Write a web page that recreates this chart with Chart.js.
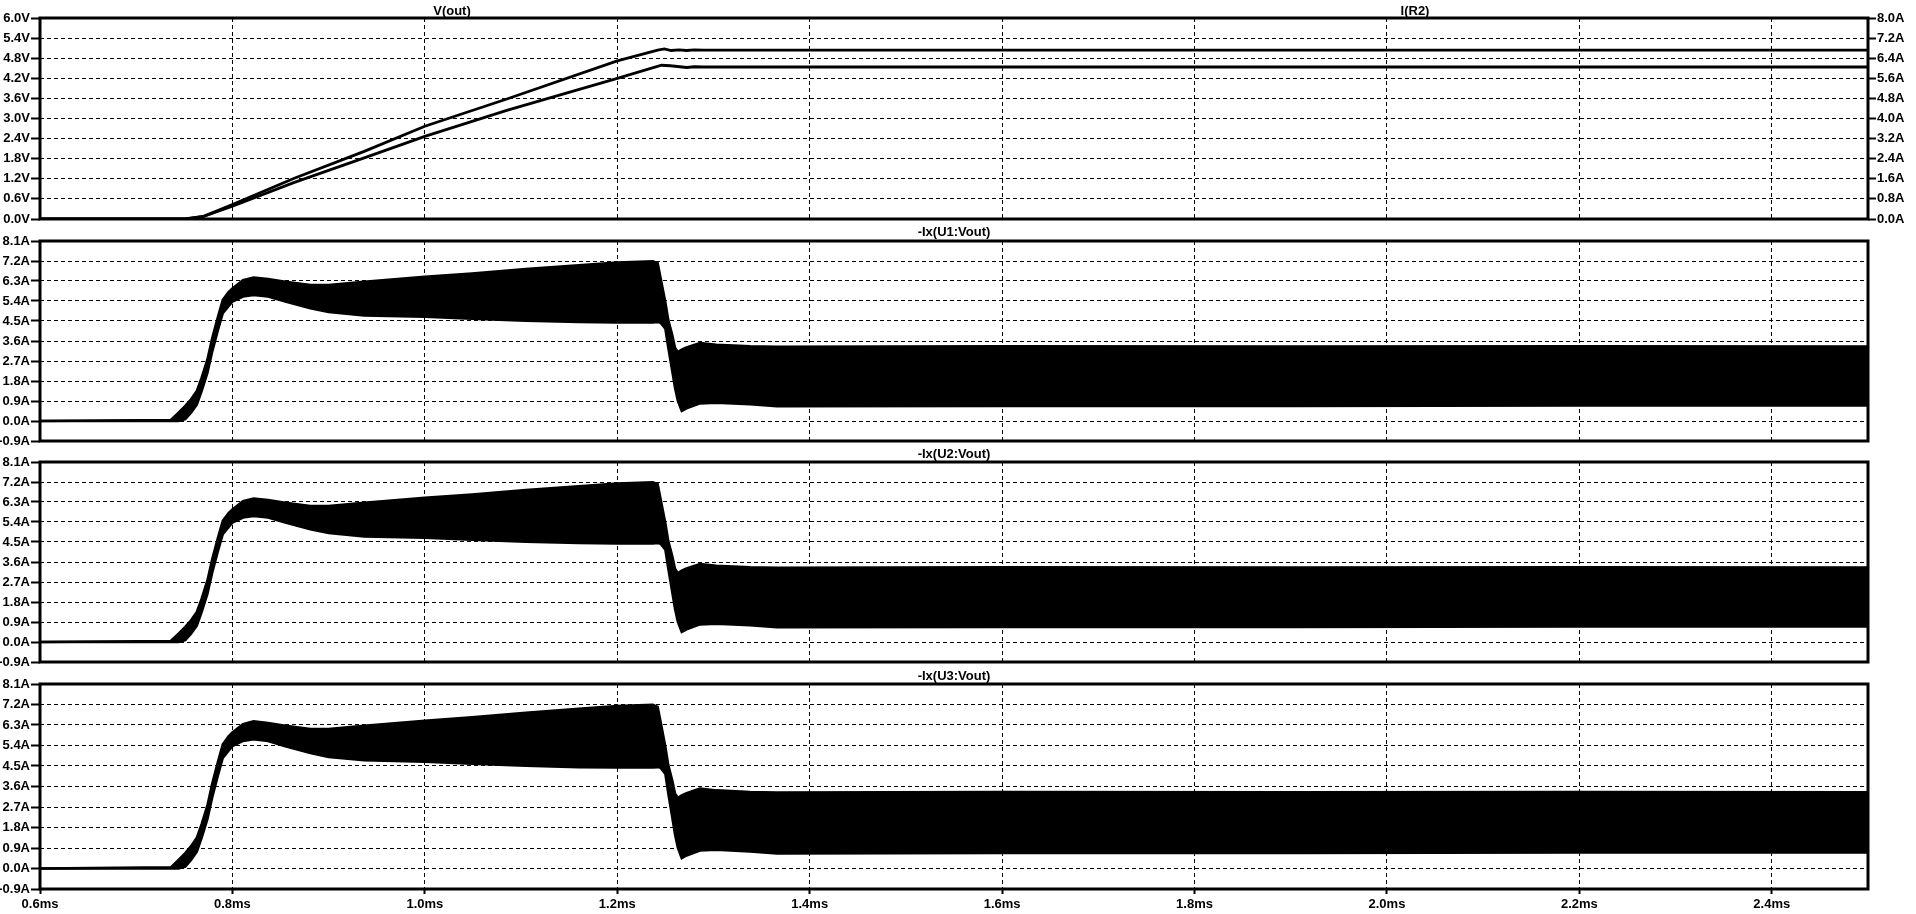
<!DOCTYPE html>
<html>
<head>
<meta charset="utf-8">
<script src="https://cdn.jsdelivr.net/npm/chart.js"></script>
<style>
  html, body { margin: 0; padding: 0; background: #fff; }
  body { width: 1916px; height: 914px; position: relative; overflow: hidden;
         font: bold 13px "Liberation Sans", Arial, sans-serif; color: #000; }
  canvas { position: absolute; left: 0; }
  .name { position: absolute; transform: translate(-50%, -50%); white-space: nowrap; }
</style>
</head>
<body>
<canvas id="p1" width="1916" height="230" style="top:0px"></canvas>
<canvas id="p2" width="1916" height="222" style="top:230px"></canvas>
<canvas id="p3" width="1916" height="221" style="top:452px"></canvas>
<canvas id="p4" width="1916" height="241" style="top:673px"></canvas>
<div id="names"></div>
<script>
// axis ticks
const timeTicks = [0.6, 0.8, 1.0, 1.2, 1.4, 1.6, 1.8, 2.0, 2.2, 2.4];
const voutTicks = [0.0, 0.6, 1.2, 1.8, 2.4, 3.0, 3.6, 4.2, 4.8, 5.4, 6.0];
const ir2Ticks = [0.0, 0.8, 1.6, 2.4, 3.2, 4.0, 4.8, 5.6, 6.4, 7.2, 8.0];
const ixTicks = [-0.9, 0.0, 0.9, 1.8, 2.7, 3.6, 4.5, 5.4, 6.3, 7.2, 8.1];

// V(out) in volts (time in ms)
const voutTime = [0.6, 0.751, 0.77, 0.8, 0.863, 0.937, 1.0, 1.086, 1.2, 1.242, 1.249, 1.256, 1.264, 1.272, 1.28, 1.29, 2.5];
const voutValues = [0, 0, 0.08, 0.43, 1.2, 2.02, 2.77, 3.59, 4.72, 5.04, 5.08, 5.03, 5.05, 5.03, 5.05, 5.04, 5.04];

// I(R2) in amps
const ir2Time = [0.6, 0.751, 0.77, 0.8, 0.863, 0.937, 1.0, 1.086, 1.2, 1.246, 1.255, 1.265, 1.272, 1.28, 1.29, 2.5];
const ir2Values = [0, 0, 0.1, 0.51, 1.44, 2.43, 3.29, 4.33, 5.6, 6.12, 6.1, 6.06, 6.03, 6.06, 6.05, 6.05];

// -Ix(Un:Vout): switching ripple drawn as upper / lower envelope
const ixTime = [0.6, 0.736, 0.744, 0.751, 0.757, 0.763, 0.768, 0.774, 0.779, 0.785, 0.790, 0.796, 0.8, 0.811, 0.822, 0.837, 0.855, 0.881, 0.9, 0.937, 1.0, 1.049, 1.105, 1.16, 1.2, 1.237, 1.242, 1.245, 1.25, 1.253, 1.257, 1.26, 1.263, 1.267, 1.272, 1.286, 1.303, 1.338, 1.366, 1.6, 1.9, 2.2, 2.5];
const ixUpper = [0, 0.05, 0.38, 0.68, 0.98, 1.35, 1.95, 2.77, 3.73, 4.7, 5.45, 5.8, 5.97, 6.34, 6.46, 6.39, 6.27, 6.12, 6.12, 6.27, 6.49, 6.64, 6.84, 7.01, 7.13, 7.19, 7.1, 6.45, 5.35, 4.55, 3.9, 3.3, 3.1, 3.21, 3.31, 3.51, 3.43, 3.36, 3.34, 3.36, 3.35, 3.36, 3.35];
const ixLower = [0, 0, 0, 0.08, 0.37, 0.74, 1.34, 2.16, 3.12, 4.1, 4.85, 5.17, 5.37, 5.6, 5.67, 5.6, 5.37, 5.07, 4.9, 4.75, 4.69, 4.6, 4.51, 4.45, 4.43, 4.43, 4.45, 4.42, 4.15, 3.3, 2.28, 1.5, 0.9, 0.45, 0.57, 0.79, 0.82, 0.75, 0.66, 0.68, 0.68, 0.70, 0.70];

const traceNames = ["V(out)", "I(R2)", "-Ix(U1:Vout)", "-Ix(U2:Vout)", "-Ix(U3:Vout)"];

const font = { family: "'Liberation Sans', Arial, sans-serif", size: 13, weight: 'bold' };
const pts = (xs, ys) => xs.map((x, i) => ({ x: x, y: ys[i] }));

// thick box round each plot area
const frame = {
  id: 'frame',
  afterDraw(chart) {
    const { ctx, chartArea: a } = chart;
    ctx.save();
    ctx.strokeStyle = '#000';
    ctx.lineWidth = 3;
    ctx.strokeRect(a.left, a.top, a.right - a.left, a.bottom - a.top);
    ctx.restore();
  }
};

function xAxis(showLabels) {
  return {
    type: 'linear', min: 0.6, max: 2.5,
    afterBuildTicks: s => { s.ticks = timeTicks.map(v => ({ value: v })); },
    afterFit: s => { s.height = showLabels ? 25 : 0; },
    grid: { color: '#000', lineWidth: 1, drawTicks: showLabels, tickLength: 5,
            tickWidth: 2, tickColor: '#000', tickBorderDash: [] },
    border: { display: false, dash: [4, 3] },
    ticks: { display: showLabels, font, color: '#000', padding: 3, autoSkip: false,
             maxRotation: 0, callback: v => v.toFixed(1) + 'ms' }
  };
}

function yAxis(ticks, unit, position, width, onArea) {
  return {
    type: 'linear', position: position,
    min: ticks[0], max: ticks[ticks.length - 1],
    afterBuildTicks: s => { s.ticks = ticks.map(v => ({ value: v })); },
    afterFit: s => { s.width = width; },
    grid: { color: '#000', lineWidth: 1, drawOnChartArea: onArea, drawTicks: true,
            tickLength: position === 'left' ? 9 : 8, tickWidth: 2, tickColor: '#000', tickBorderDash: [] },
    border: { display: false, dash: [4, 3] },
    ticks: { font, color: '#000', padding: 1, autoSkip: false,
             callback: v => v.toFixed(1) + unit }
  };
}

const line = (data, extra) => Object.assign({
  data: data, borderColor: '#000', borderWidth: 2.8, pointRadius: 0,
  tension: 0, fill: false
}, extra);

const common = {
  responsive: false, animation: false, devicePixelRatio: 1,
  plugins: { legend: { display: false }, tooltip: { enabled: false } }
};

// V(out) / I(R2)
new Chart(document.getElementById('p1'), {
  type: 'line',
  data: { datasets: [
    line(pts(voutTime, voutValues), { yAxisID: 'y' }),
    line(pts(ir2Time, ir2Values), { yAxisID: 'y2' })
  ] },
  options: Object.assign({}, common, {
    layout: { padding: { top: 18, bottom: 11, left: 0, right: 0 } },
    scales: {
      x: xAxis(false),
      y: yAxis(voutTicks, 'V', 'left', 40, true),
      y2: yAxis(ir2Ticks, 'A', 'right', 48, false)
    }
  }),
  plugins: [frame]
});

// the three -Ix(Un:Vout) panes
const panes = [
  { id: 'p2', top: 11, bottom: 11, last: false },
  { id: 'p3', top: 10, bottom: 11, last: false },
  { id: 'p4', top: 11, bottom: 0, last: true }
];
panes.forEach(p => {
  new Chart(document.getElementById(p.id), {
    type: 'line',
    data: { datasets: [
      line(pts(ixTime, ixLower), { borderWidth: 2.5 }),
      line(pts(ixTime, ixUpper), { borderWidth: 2.5, fill: '-1', backgroundColor: '#000' })
    ] },
    options: Object.assign({}, common, {
      layout: { padding: { top: p.top, bottom: p.bottom, left: 0, right: 48 } },
      scales: {
        x: xAxis(p.last),
        y: yAxis(ixTicks, 'A', 'left', 40, true)
      }
    }),
    plugins: [frame]
  });
});

// trace names
const namePos = [[452, 10], [1415, 10], [954, 231], [954, 452.5], [954, 674.5]];
const holder = document.getElementById('names');
traceNames.forEach((n, i) => {
  const d = document.createElement('div');
  d.className = 'name';
  d.textContent = n;
  d.style.left = namePos[i][0] + 'px';
  d.style.top = namePos[i][1] + 'px';
  holder.appendChild(d);
});
</script>
</body>
</html>
